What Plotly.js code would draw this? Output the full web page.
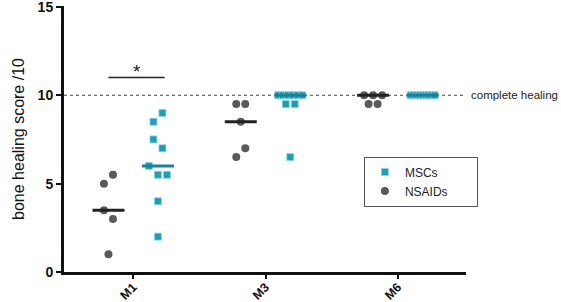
<!DOCTYPE html>
<html>
<head>
<meta charset="utf-8">
<script src="https://cdn.plot.ly/plotly-3.0.1.min.js"></script>
<style>html,body{margin:0;padding:0;background:#fff;}#chart{width:561px;height:302px;}</style>
</head>
<body>
<div id="chart"></div>
<script>
// ---- data ----
const categories = ['M1', 'M3', 'M6'];
const mscsM1 = [8.5, 9, 7.5, 7, 6, 5.5, 5.5, 4, 2];
const mscsM3 = [10, 10, 10, 10, 10, 10, 9.5, 9.5, 6.5];
const mscsM6 = [10, 10, 10, 10, 10, 10, 10, 10, 10];
const nsaidsM1 = [5, 5.5, 3.5, 3, 1];
const nsaidsM3 = [9.5, 9.5, 8.5, 6.5, 7];
const nsaidsM6 = [10, 10, 10, 9.5, 9.5];
const yTicks = [0, 5, 10, 15];
const completeHealing = 10;
const sigLevel = 11;

// ---- layout constants ----
const W = 561, H = 302;
const M = {l: 64, r: 95, t: 6, b: 30};
const xRange = [-0.523, 2.515];
const yRange = [0, 15.05];
const plotW = W - M.l - M.r;
const pxPerCat = plotW / (xRange[1] - xRange[0]);
const groupOffset = 0.187;
const medianHalf = 16 / pxPerCat;
const mscColor = '#1E9DB6';
const mscLine = '#1A8298';
const nsaidColor = '#5A5A5A';
const font = 'Arial, "Liberation Sans", sans-serif';

function median(a) {
  const s = a.slice().sort((p, q) => p - q);
  const n = s.length;
  return n % 2 ? s[(n - 1) / 2] : (s[n / 2 - 1] + s[n / 2]) / 2;
}

// simple scatter-dot-plot spreading: rows of close values laid side by side
function spread(vals) {
  const idx = vals.map((v, i) => i);
  const uniq = [...new Set(vals)].sort((a, b) => b - a);
  const rows = [];
  let cur = null;
  uniq.forEach(u => {
    const members = idx.filter(i => vals[i] === u);
    if (cur && cur.start - u <= 0.5 && cur.items.length + members.length <= 3) {
      cur.items.push(...members);
    } else {
      cur = {start: u, items: members.slice()};
      rows.push(cur);
    }
  });
  const off = new Array(vals.length).fill(0);
  rows.forEach(r => {
    const items = r.items.sort((a, b) => a - b);
    const n = items.length;
    const step = n > 1 ? Math.min(9, 24 / (n - 1)) : 0;
    items.forEach((i, k) => { off[i] = (k - (n - 1) / 2) * step / pxPerCat; });
  });
  return off;
}

function buildXY(groups, sign) {
  const x = [], y = [];
  groups.forEach((vals, ci) => {
    const off = spread(vals);
    vals.forEach((v, i) => { x.push(ci + sign * groupOffset + off[i]); y.push(v); });
  });
  return {x, y};
}

function medianTrace(groups, sign, color) {
  const x = [], y = [];
  groups.forEach((vals, ci) => {
    const m = median(vals);
    const c = ci + sign * groupOffset;
    x.push(c - medianHalf, c + medianHalf, null);
    y.push(m, m, null);
  });
  return {type: 'scatter', mode: 'lines', x, y, line: {color, width: 3}, showlegend: false, hoverinfo: 'skip'};
}

const mscGroups = [mscsM1, mscsM3, mscsM6];
const nsaidGroups = [nsaidsM1, nsaidsM3, nsaidsM6];
const mscXY = buildXY(mscGroups, 1);
const nsaidXY = buildXY(nsaidGroups, -1);
const pad = '\u00a0'.repeat(7);

const traces = [
  {type: 'scatter', mode: 'markers', name: 'MSCs', x: mscXY.x, y: mscXY.y,
   marker: {symbol: 'square', size: 7, color: mscColor, line: {color: '#8ED3E2', width: 0.8}}},
  {type: 'scatter', mode: 'markers', name: 'NSAIDs' + pad, x: nsaidXY.x, y: nsaidXY.y,
   marker: {symbol: 'circle', size: 8, color: nsaidColor, line: {width: 0}}},
  medianTrace(nsaidGroups, -1, '#222222'),
  medianTrace(mscGroups, 1, mscLine)
];

const layout = {
  width: W, height: H,
  margin: M,
  paper_bgcolor: '#fff', plot_bgcolor: '#fff',
  font: {family: font, color: '#111'},
  showlegend: true,
  legend: {
    x: 0.746, y: 0.434, xanchor: 'left', yanchor: 'top',
    bordercolor: '#555', borderwidth: 1, bgcolor: '#fff',
    font: {size: 12, color: '#222'}, tracegroupgap: 0
  },
  xaxis: {
    range: xRange, tickmode: 'array', tickvals: categories.map((c, i) => i), ticktext: categories,
    tickangle: -45, tickfont: {size: 12.5, family: font, color: '#111', weight: 'bold'},
    ticklabelstandoff: -4,
    showgrid: false, zeroline: false, showline: true, linecolor: '#111', linewidth: 3,
    ticks: 'outside', ticklen: 4, tickwidth: 2, tickcolor: '#111', fixedrange: true
  },
  yaxis: {
    range: yRange, tickmode: 'array', tickvals: yTicks, ticktext: yTicks.map(String),
    tickfont: {size: 14, family: font, color: '#111', weight: 'bold'},
    ticklabeloverflow: 'allow',
    title: {text: 'bone healing score /10', font: {size: 16, family: font, color: '#111'}, standoff: 10},
    showgrid: false, zeroline: false, showline: true, linecolor: '#111', linewidth: 3,
    ticks: 'outside', ticklen: 5, tickwidth: 2, tickcolor: '#111', fixedrange: true
  },
  shapes: [
    {type: 'line', xref: 'paper', yref: 'y', x0: 0, x1: 1, y0: completeHealing, y1: completeHealing,
     line: {color: '#444', width: 1, dash: 'dot'}, layer: 'below'},
    {type: 'line', xref: 'x', yref: 'y', x0: -groupOffset, x1: groupOffset + 0.05, y0: sigLevel, y1: sigLevel,
     line: {color: '#222', width: 1.5}}
  ],
  annotations: [
    {xref: 'paper', yref: 'y', x: 1, y: completeHealing, xanchor: 'left', yanchor: 'middle', xshift: 3,
     text: 'complete healing', showarrow: false, font: {size: 11.5, family: font, color: '#222'}},
    {xref: 'x', yref: 'y', x: 0.025, y: sigLevel, xanchor: 'center', yanchor: 'bottom', yshift: -6,
     text: '*', showarrow: false, font: {size: 19, family: font, color: '#222'}}
  ]
};

Plotly.newPlot('chart', traces, layout, {displayModeBar: false, staticPlot: true});
</script>
</body>
</html>
